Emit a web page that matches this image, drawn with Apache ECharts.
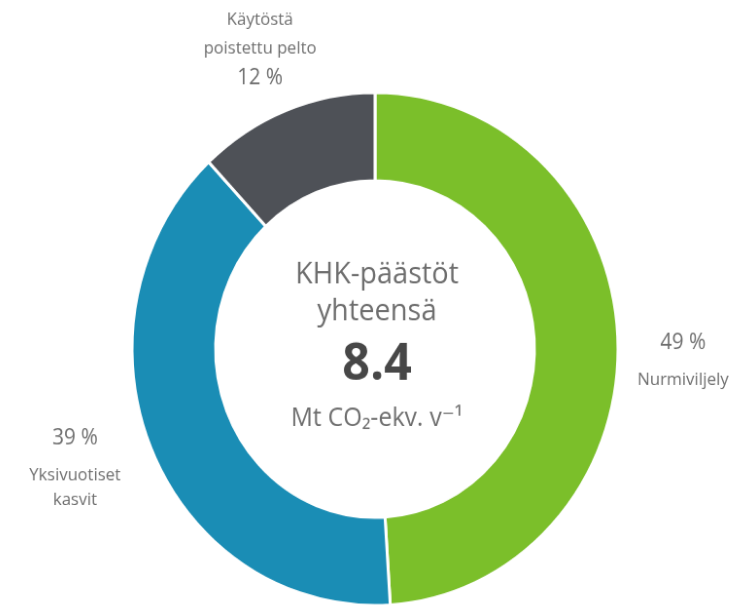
<!DOCTYPE html>
<html>
<head>
<meta charset="utf-8">
<script src="https://cdn.jsdelivr.net/npm/echarts@6/dist/echarts.min.js"></script>
<style>
  html, body { margin: 0; padding: 0; background: #fff; overflow: hidden; }
  /* the ring is drawn slightly taller than wide */
  #chart { width: 746px; height: 610px; transform-origin: 375px 349px; transform: scale(0.972, 1.026); }
</style>
</head>
<body>
<div id="chart"></div>
<script>
// Peltoviljelyn kasvihuonekaasupäästöt maankäyttöluokittain
const categories = ['Nurmiviljely', 'Yksivuotiset\nkasvit', 'Käytöstä\npoistettu pelto'];
const shares = [49, 39, 12];             // %
const colors = ['#7bbf2a', '#1a8db5', '#4e5157'];
const totalEmissions = 8.4;              // Mt CO2-ekv. / v
const totalTitle = ['KHK-päästöt', 'yhteensä'];
const totalUnit = 'Mt CO₂-ekv. v⁻¹';

// page scaling applied by the stylesheet; used to place text at page coordinates
const CX = 375, CY = 349, SX = 0.972, SY = 1.026;
const px = x => CX + (x - CX) / SX;
const py = y => CY + (y - CY) / SY;

// label block centres (page coordinates, same order as categories)
const labelAnchors = [
  { x: 683, y: 355 },
  { x: 75, y: 463 },
  { x: 260, y: 49 }
];
// percentage above the name (true) or below it (false)
const valueFirst = [true, true, false];

const FONT = '"Open Sans", "DejaVu Sans", sans-serif';
const TEXT = '#6e6e6e';

function labelText(i) {
  const top = valueFirst[i];
  const nameLines = categories[i].split('\n').map(s => '{' + (top ? 'n1' : 'n2') + '|' + s + '}');
  const value = '{' + (top ? 'v1' : 'v2') + '|' + shares[i] + ' %}';
  return top ? [value].concat(nameLines).join('\n')
             : nameLines.concat([value]).join('\n');
}

const chart = echarts.init(document.getElementById('chart'));
chart.setOption({
  animation: false,
  series: [{
    type: 'pie',
    center: [CX, CY],
    radius: [164, 250],
    startAngle: 90,
    clockwise: true,
    silent: true,
    itemStyle: { borderColor: '#ffffff', borderWidth: 3 },
    label: {
      show: true,
      position: 'outside',
      overflow: 'none',
      formatter: p => labelText(p.dataIndex),
      rich: {
        n1: { fontFamily: FONT, fontSize: 17, color: TEXT, lineHeight: 24, align: 'center' },
        n2: { fontFamily: FONT, fontSize: 17, color: TEXT, lineHeight: 28, align: 'center' },
        v1: { fontFamily: FONT, fontSize: 21, color: TEXT, lineHeight: 49, align: 'center' },
        v2: { fontFamily: FONT, fontSize: 21, color: TEXT, lineHeight: 28, align: 'center' }
      }
    },
    labelLine: { show: false },
    labelLayout: p => ({
      x: px(labelAnchors[p.dataIndex].x),
      y: py(labelAnchors[p.dataIndex].y),
      align: 'center',
      verticalAlign: 'middle',
      hideOverlap: false,
      moveOverlap: false
    }),
    data: categories.map((c, i) => ({
      name: c,
      value: shares[i],
      itemStyle: { color: colors[i] }
    }))
  }],
  graphic: [
    {
      type: 'text', x: px(377), y: py(275),
      style: { text: totalTitle[0], font: '29px ' + FONT, fill: TEXT, textAlign: 'center', textVerticalAlign: 'middle' }
    },
    {
      type: 'text', x: px(377), y: py(312),
      style: { text: totalTitle[1], font: '29px ' + FONT, fill: TEXT, textAlign: 'center', textVerticalAlign: 'middle' }
    },
    {
      type: 'text', x: px(377), y: py(365),
      style: { text: totalEmissions.toFixed(1), font: 'bold 50px ' + FONT, fill: '#474747', textAlign: 'center', textVerticalAlign: 'middle' }
    },
    {
      type: 'text', x: px(377), y: py(419),
      style: { text: totalUnit, font: '25px ' + FONT, fill: TEXT, textAlign: 'center', textVerticalAlign: 'middle' }
    }
  ]
});
</script>
</body>
</html>
